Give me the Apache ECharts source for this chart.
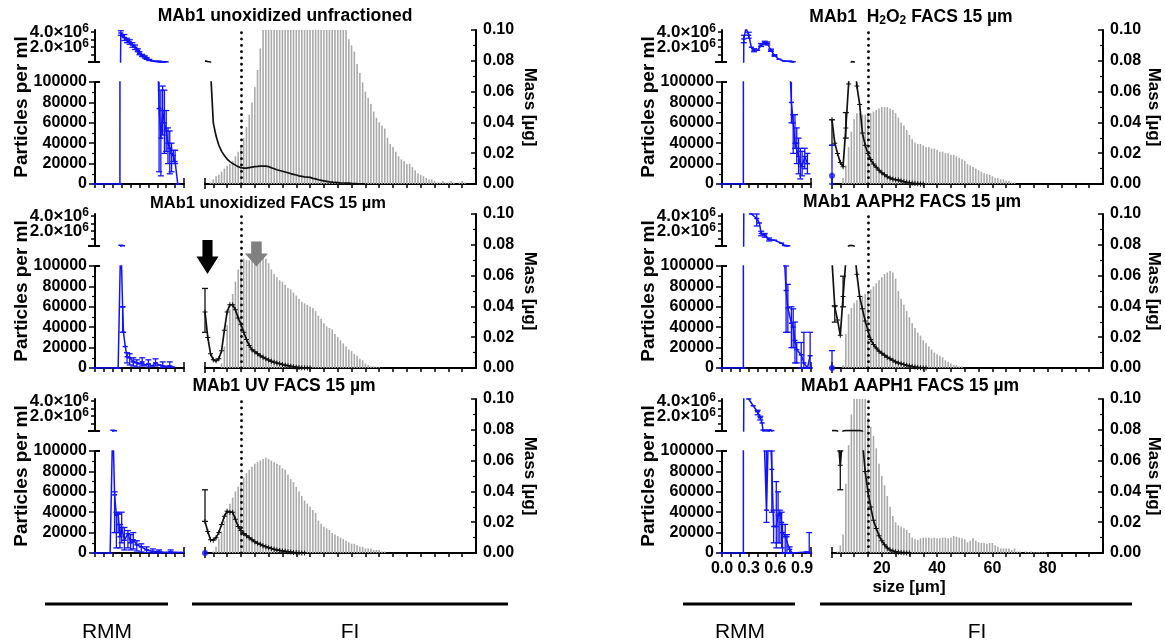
<!DOCTYPE html>
<html><head><meta charset="utf-8">
<script src="https://cdn.jsdelivr.net/npm/echarts@6/dist/echarts.min.js"></script>
<style>html,body{margin:0;padding:0;background:#fff}#c{width:1165px;height:643px}</style>
</head><body><div id="c"></div>
<script>
// ---------------- DATA ----------------
// FI size bins start at 2 µm, one value per 1 µm bin
const fiStart = 2;
// Mass per size bin [µg] (right axis)
const mass_unfrac = [0,0,0.001,0.003,0.005,0.006,0.008,0.010,0.012,0.013,0.015,0.018,0.021,0.024,0.030,0.037,0.045,0.053,0.063,0.074,0.088,0.102,
 0.110,0.118,0.125,0.131,0.136,0.140,0.143,0.145,0.146,0.146,0.145,0.143,0.141,0.138,0.135,0.132,0.128,0.125,0.122,0.120,0.117,0.114,0.112,0.110,0.108,0.106,0.104,0.103,0.101,0.100,
 0.094,0.090,0.086,0.078,0.072,0.066,0.060,0.056,0.052,0.047,0.043,0.040,0.038,0.036,0.030,0.026,0.024,0.021,0.018,0.016,0.015,0.013,0.013,0.011,0.009,0.007,0.006,0.005,0.004,0.003,0.003,0.002,0.001,0.001,0.002,0.001,0.001,0.002,0.001,0,0.001,0.002,0.001,0];
const mass_facs = [0,0,0,0,0,0,0.003,0.014,0.028,0.038,0.048,0.056,0.064,0.071,0.071,0.070,0.070,0.070,0.071,0.071,0.072,0.073,0.071,0.068,0.064,0.061,0.059,0.057,0.056,0.054,0.052,0.051,0.049,0.047,0.045,0.043,0.042,0.041,0.040,0.039,0.037,0.034,0.032,0.029,0.027,0.026,0.025,0.022,0.020,0.018,0.016,0.014,0.012,0.011,0.009,0.008,0.006,0.005,0.003,0.002,0.001,0.001,0.0005,0.0005];
const mass_uv = [0,0,0,0.001,0.004,0.009,0.014,0.021,0.028,0.032,0.036,0.040,0.043,0.046,0.049,0.052,0.054,0.056,0.058,0.059,0.060,0.061,0.062,0.061,0.060,0.059,0.058,0.057,0.055,0.054,0.051,0.048,0.046,0.043,0.040,0.037,0.034,0.032,0.030,0.028,0.026,0.021,0.019,0.017,0.016,0.015,0.013,0.012,0.011,0.010,0.009,0.008,0.007,0.006,0.006,0.005,0.004,0.004,0.003,0.003,0.003,0.002,0.002,0.002,0.001,0.001];
const mass_h2o2 = [0,0,0,0,0.004,0.012,0.024,0.034,0.042,0.046,0.046,0.045,0.045,0.046,0.046,0.047,0.048,0.049,0.050,0.050,0.050,0.049,0.048,0.046,0.043,0.040,0.038,0.035,0.032,0.029,0.027,0.026,0.026,0.025,0.024,0.024,0.023,0.023,0.022,0.021,0.021,0.020,0.020,0.019,0.019,0.018,0.017,0.016,0.015,0.013,0.012,0.011,0.010,0.009,0.008,0.007,0.0065,0.006,0.005,0.004,0.004,0.003,0.003,0.002,0.002,0.001,0.001];
const mass_aaph2 = [0,0,0,0,0.002,0.022,0.035,0.039,0.042,0.044,0.045,0.047,0.048,0.049,0.051,0.053,0.055,0.057,0.059,0.061,0.062,0.063,0.062,0.058,0.050,0.045,0.041,0.037,0.033,0.029,0.026,0.023,0.021,0.018,0.016,0.014,0.012,0.010,0.009,0.008,0.007,0.005,0.004,0.003,0.002,0.002,0.001,0.001];
const mass_aaph1 = [0,0,0.001,0.005,0.012,0.045,0.070,0.090,0.102,0.115,0.120,0.115,0.105,0.088,0.082,0.076,0.068,0.058,0.050,0.044,0.037,0.030,0.024,0.020,0.018,0.017,0.016,0.015,0.013,0.010,0.009,0.0085,0.0095,0.010,0.010,0.010,0.0095,0.010,0.0095,0.0095,0.010,0.010,0.0095,0.010,0.011,0.0105,0.010,0.0095,0.009,0.007,0.008,0.0095,0.008,0.007,0.0065,0.0065,0.006,0.0065,0.0065,0.005,0.004,0.003,0.003,0.003,0.003,0.002,0.003,0.001,0.001,0,0.001,0.0005,0.001,0.0005,0.0005,0.0005,0.0005,0.0005];

// FI particle counts per size bin [particles per ml] (left axis)
const fi_unfrac = [250000,160000,112000,60000,47000,38000,32000,28000,24500,22000,20000,18500,17000,16000,15500,15500,16000,16500,17000,17200,17500,17500,17500,17000,16000,15000,14000,13200,12500,11800,11000,10200,9500,8800,8000,7500,7000,6800,6500,5500,5000,4200,3600,3000,2500,2000,1800,1500,1300,1100,1000,900,800,600,500,300,200,100,0];
const fi_facs = [55000,30000,14000,8000,7000,9000,17000,37000,55000,62000,62000,57000,49000,43000,35000,28000,22000,18000,16000,14000,12000,10500,9000,7800,6500,5700,5000,4200,3500,2800,2200,1700,1200,800,500,300,150,50,0];
const fi_uv = [31000,21000,13000,12500,15000,20000,28000,36000,41000,40000,40000,33000,26000,22000,19000,17000,15000,13000,11000,9500,8500,7200,6200,5200,4500,3700,3000,2500,2000,1600,1200,900,600,400,200,100,0];
const fi_h2o2 = [63000,40000,30000,21000,17000,55000,98000,150000,130000,96000,78000,50000,38000,30000,24000,19500,16500,13500,11000,9000,7200,5800,4800,4200,3800,3000,2300,1700,1200,800,500,300,100,0];
const fi_aaph2 = [105000,60000,47000,32000,70000,105000,140000,180000,120000,92000,70000,58000,46000,37000,28000,23000,19500,16500,14500,12500,10500,9000,7500,6000,5000,4200,3400,2700,2000,1500,1000,600,300,100,0];
const fi_aaph1 = [150000,150000,120000,86000,120000,160000,160000,160000,160000,150000,150000,110000,80000,60000,45000,32000,24000,17000,12000,8000,5000,3000,2000,1200,800,500,300,100,0];

// FI count error bars [size, low, high]
const fiErr_facs = [[2,35000,78000]];
const fiErr_uv = [[2,31000,62000]];
const fiErr_h2o2 = [[2,38000,63000],[7,45000,70000]];
const fiErr_aaph2 = [[3,45000,61000],[6,60000,90000]];
const fiErr_aaph1 = [[5,62000,100000]];

// RMM particle counts [size µm, particles per ml]
const rmm_unfrac = [[0,0],[0.28,0],[0.29,3900000],[0.31,3500000],[0.33,3300000],[0.36,2900000],[0.39,2700000],[0.42,2300000],[0.45,2000000],[0.48,1600000],[0.50,1200000],[0.53,900000],[0.56,700000],[0.58,500000],[0.61,300000],[0.65,150000],[0.68,110000],[0.71,110000],[0.72,74000],[0.74,45000],[0.76,72000],[0.78,60000],[0.80,52000],[0.82,40000],[0.84,35000],[0.86,30000],[0.88,28000],[0.90,22000],[0.93,0]];
const rmm_facs = [[0,0],[0.26,0],[0.29,130000],[0.31,60000],[0.32,35000],[0.34,21000],[0.36,11000],[0.39,10000],[0.43,6000],[0.47,5000],[0.50,4000],[0.53,6000],[0.56,3000],[0.60,4000],[0.64,2000],[0.68,5000],[0.72,3000],[0.76,2000],[0.80,1500],[0.84,2000],[0.87,1000]];
const rmm_uv = [[0,0],[0.17,0],[0.20,130000],[0.22,57000],[0.24,37000],[0.26,39000],[0.28,16000],[0.30,25000],[0.33,12500],[0.37,19000],[0.40,10000],[0.43,13000],[0.47,8000],[0.52,6000],[0.58,3000],[0.65,1500],[0.72,1500],[0.78,500],[0.85,1000],[0.92,500],[0.98,500]];
const rmm_h2o2 = [[0,0],[0.24,0],[0.245,3100000],[0.27,4600000],[0.30,3600000],[0.33,2000000],[0.36,1600000],[0.40,1600000],[0.44,2300000],[0.48,2600000],[0.51,2500000],[0.55,1600000],[0.59,900000],[0.64,400000],[0.70,150000],[0.76,120000],[0.78,80000],[0.80,60000],[0.82,40000],[0.84,40000],[0.86,27000],[0.88,20000],[0.90,17000],[0.93,27000],[0.96,20000]];
const rmm_aaph2 = [[0,0],[0.24,0],[0.245,5000000],[0.33,4300000],[0.39,3700000],[0.42,3100000],[0.44,1700000],[0.48,1500000],[0.53,900000],[0.59,800000],[0.67,400000],[0.70,110000],[0.72,76000],[0.74,59000],[0.78,44000],[0.80,40000],[0.82,27000],[0.84,18000],[0.89,13000],[0.92,5000],[0.96,0],[0.99,12000]];
const rmm_aaph1 = [[0,0],[0.24,0],[0.245,5000000],[0.30,4300000],[0.35,3400000],[0.40,2600000],[0.43,1800000],[0.45,1100000],[0.46,150000],[0.48,150000],[0.50,42000],[0.53,150000],[0.56,82000],[0.58,26000],[0.61,26000],[0.63,37000],[0.65,39000],[0.67,30000],[0.68,20000],[0.71,16000],[0.73,16000],[0.76,3500],[0.79,0],[0.95,1000],[0.98,500]];

// RMM error bars [size, low, high]
const rmmErr_unfrac = [[0.29,3600000,4200000],[0.33,2900000,3700000],[0.36,2600000,3200000],[0.39,2400000,3000000],[0.42,2000000,2600000],[0.45,1700000,2300000],[0.48,1400000,1800000],[0.50,1000000,1400000],[0.53,750000,1050000],[0.56,550000,850000],[0.58,380000,620000],[0.61,220000,380000],[0.72,12000,130000],[0.74,8000,92000],[0.76,48000,96000],[0.78,30000,92000],[0.80,32000,72000],[0.82,20000,55000],[0.84,10000,52000],[0.86,12000,40000],[0.88,22000,33000],[0.90,20000,33000]];
const rmmErr_facs = [[0.31,35000,60000],[0.36,5000,15000],[0.39,3000,14000],[0.43,2000,10000],[0.47,1000,8000],[0.53,2000,10000],[0.60,1000,8000],[0.68,2000,9000],[0.76,500,6000],[0.84,500,6000]];
const rmmErr_uv = [[0.22,20000,60000],[0.24,5000,40000],[0.26,20000,38000],[0.28,5000,28000],[0.30,10000,40000],[0.33,3000,25000],[0.37,5000,22000],[0.40,3000,18000],[0.43,4000,20000],[0.47,2000,12000],[0.52,1000,9000],[0.58,500,6000],[0.65,0,4000],[0.72,0,3000],[0.85,0,3000]];
const rmmErr_h2o2 = [[0.245,2600000,3600000],[0.30,3200000,4000000],[0.36,1400000,1800000],[0.44,2100000,2500000],[0.48,2400000,2800000],[0.51,2300000,2700000],[0.55,1450000,1750000],[0.59,800000,1000000],[0.78,60000,100000],[0.80,30000,68000],[0.82,35000,68000],[0.84,20000,55000],[0.86,10000,45000],[0.88,5000,35000],[0.90,8000,32000],[0.93,15000,35000],[0.96,10000,30000]];
const rmmErr_aaph2 = [[0.39,2700000,4300000],[0.44,1400000,2000000],[0.48,1200000,1700000],[0.53,700000,1100000],[0.72,35000,100000],[0.74,35000,82000],[0.78,20000,60000],[0.80,20000,58000],[0.82,5000,45000],[0.84,5000,25000],[0.89,0,25000],[0.92,0,35000],[0.99,0,35000]];
const rmmErr_aaph1 = [[0.40,2200000,2800000],[0.43,1500000,2000000],[0.50,30000,100000],[0.56,40000,100000],[0.58,10000,42000],[0.61,5000,70000],[0.63,10000,60000],[0.65,10000,42000],[0.67,5000,40000],[0.68,0,28000],[0.71,0,28000],[0.73,0,18000],[0.76,0,6000],[0.98,0,20000]];

// RMM points recorded at the lower FI edge [size, count] and their error bars
const blueFi_uv = [[2,0]];
const blueFi_h2o2 = [[2,8000]];
const blueFiErr_h2o2 = [[2,0,38000]];
const blueFi_aaph2 = [[2,0]];
const blueFiErr_aaph2 = [[2,0,17000]];

// arrows (panel 2) [size, mass]
const arrowBlack = [2.9, 0.072];
const arrowGray = [20.6, 0.074];

const facsCut = 15; // µm
const fiTicks = [20, 40, 60, 80];

// ---------------- LAYOUT ----------------
const FONT = '"Liberation Sans", Arial, Helvetica, sans-serif';
const BLUE = '#1212ff';
const colX = [0, 627];
const rowT = [30, 214, 399];
const massNameGap = [45, 33];
// upper (compressed) segment of the broken axis: values this small sit below its visible range
const rmmTopVisible = 45000, fiTopVisible = 110000;

const panels = [
 {col:0,row:0,title:'MAb1 unoxidized unfractioned',tx:285,ty:16,ts:17.5,rmm:rmm_unfrac,rmmErr:rmmErr_unfrac,fi:fi_unfrac,fiErr:[],mass:mass_unfrac,marks:false},
 {col:0,row:1,title:'MAb1 unoxidized FACS 15 µm',tx:268,ty:203,ts:16.5,rmm:rmm_facs,rmmErr:rmmErr_facs,fi:fi_facs,fiErr:fiErr_facs,mass:mass_facs,marks:true,arrows:true},
 {col:0,row:2,title:'MAb1 UV FACS 15 µm',tx:284,ty:386,ts:17.5,rmm:rmm_uv,rmmErr:rmmErr_uv,fi:fi_uv,fiErr:fiErr_uv,mass:mass_uv,marks:true,blue:blueFi_uv,blueErr:[]},
 {col:1,row:0,title:'MAb1  H{sub|2}O{sub|2} FACS 15 µm',tx:911,ty:17,ts:17.5,rmm:rmm_h2o2,rmmErr:rmmErr_h2o2,fi:fi_h2o2,fiErr:fiErr_h2o2,mass:mass_h2o2,marks:true,blue:blueFi_h2o2,blueErr:blueFiErr_h2o2},
 {col:1,row:1,title:'MAb1 AAPH2 FACS 15 µm',tx:912,ty:202,ts:17.5,rmm:rmm_aaph2,rmmErr:rmmErr_aaph2,fi:fi_aaph2,fiErr:fiErr_aaph2,mass:mass_aaph2,marks:true,blue:blueFi_aaph2,blueErr:blueFiErr_aaph2},
 {col:1,row:2,title:'MAb1 AAPH1 FACS 15 µm',tx:910,ty:386,ts:17.5,rmm:rmm_aaph1,rmmErr:rmmErr_aaph1,fi:fi_aaph1,fiErr:fiErr_aaph1,mass:mass_aaph1,marks:true,labels:true}
];

const grids=[], xAxes=[], yAxes=[], series=[], graphics=[];
const AL = {show:true, onZero:false, lineStyle:{color:'#000', width:2}};
function tick(o){ return Object.assign({show:true, length:5, lineStyle:{color:'#000', width:1.5}}, o); }
function lbl(o){ return Object.assign({color:'#000', fontFamily:FONT, fontWeight:'bold', fontSize:16, hideOverlap:false}, o); }
function grid(left, top, width, height){ grids.push({left, top, width, height, containLabel:false, outerBoundsMode:'none'}); return grids.length-1; }
function xa(o){ xAxes.push(Object.assign({type:'value', position:'bottom', splitLine:{show:false}, axisLine:{show:false,onZero:false}, axisTick:{show:false}, axisLabel:{show:false}}, o)); return xAxes.length-1; }
function ya(o){ yAxes.push(Object.assign({type:'value', position:'left', splitLine:{show:false}, axisLine:{show:false,onZero:false}, axisTick:{show:false}, axisLabel:{show:false}}, o)); return yAxes.length-1; }
// drop values that lie below the upper segment far out of view so they are clipped
function upper(data, thr){ return data.map(([x,v]) => [x, v < thr ? -9e6 : v]); }
const sciLabel = o => lbl(Object.assign({show:true, margin:6, fontSize:17,
  formatter:v => (v/1e6).toFixed(1) + '×10{s|6}',
  rich:{s:{fontSize:12, fontWeight:'bold', fontFamily:FONT, color:'#000', verticalAlign:'top', padding:[0,0,8,0]}}}, o));

function errSeries(xi, yi, data, color, cap){
  return {type:'custom', xAxisIndex:xi, yAxisIndex:yi, data, z:6, silent:true,
    renderItem(params, api){
      const cs = params.coordSys;
      const x = api.value(0);
      const a = api.coord([x, api.value(1)]), b = api.coord([x, api.value(2)]);
      const top = cs.y, bot = cs.y + cs.height, l = cs.x - 1, r = cs.x + cs.width + 1;
      if (a[0] < l || a[0] > r) return null;
      const cl = v => Math.max(top, Math.min(bot, v));
      const y1 = cl(a[1]), y2 = cl(b[1]);
      if (Math.abs(y1 - y2) < 0.5) return null;
      const ch = [{type:'line', shape:{x1:a[0], y1:y1, x2:a[0], y2:y2}, style:{stroke:color, lineWidth:1.3}}];
      [a[1], b[1]].forEach(y => { if (y >= top && y <= bot) ch.push({type:'line', shape:{x1:a[0]-cap, y1:y, x2:a[0]+cap, y2:y}, style:{stroke:color, lineWidth:1.3}}); });
      return {type:'group', children:ch};
    }};
}

const PLUS = 'path://M4,0 H6 V4 H10 V6 H6 V10 H4 V6 H0 V4 H4 Z';
const ARROW = 'path://M27,0 L73,0 L73,48 L100,48 L50,100 L0,48 L27,48 Z';
const fiTickVals = [5,10,15,20,25,30,35,40,45,50,55,60,65,70,75,80,85,90,95];

panels.forEach(p => {
  const cx = colX[p.col], T = rowT[p.row];
  const rl = 95 + cx, rw = 89, fl = 205 + cx, fw = 271;
  const gRT = grid(rl, T, rw, 32), gRB = grid(rl, T+52, rw, 102), gRF = grid(rl, T, rw, 154);
  const gFT = grid(fl, T, fw, 32), gFB = grid(fl, T+52, fw, 102), gFM = grid(fl, T, fw, 154);

  // RMM top part
  const xRT = xa({gridIndex:gRT, min:0, max:1});
  const yRT = ya({gridIndex:gRT, min:30000, max:4300000, axisLine:AL,
    axisTick:tick({customValues:[1000000,2000000,3000000,4000000], length:4}),
    axisLabel:sciLabel({customValues:[4000000]})});
  ya({gridIndex:gRT, min:30000, max:4300000, axisLabel:sciLabel({customValues:[2000000]})});
  ya({gridIndex:gRT, min:30000, max:4300000, axisTick:tick({customValues:[30000], length:7, lineStyle:{color:'#000',width:2}})});
  ya({gridIndex:gRT, min:30000, max:4300000, axisTick:tick({customValues:[30000], inside:true, length:5, lineStyle:{color:'#000',width:2}})});

  // RMM bottom part
  const xRB = xa({gridIndex:gRB, min:0, max:1, interval:0.1, axisLine:AL, axisTick:tick({length:4}),
    axisLabel:lbl({show:!!p.labels, fontSize:16, margin:8,
      formatter:v => { const k = Math.round(v*10); return (k % 3 === 0 && k <= 9) ? (k/10).toFixed(1) : ''; }})});
  xa({gridIndex:gRB, min:0, max:1, axisTick:tick({customValues:[1], inside:true, length:6})});
  const yRB = ya({gridIndex:gRB, min:0, max:100000, interval:20000, axisLine:AL, axisTick:tick({length:6}),
    minorTick:{show:true, splitNumber:2, length:3, lineStyle:{color:'#000', width:1.2}},
    axisLabel:lbl({show:true, margin:8, formatter:v => String(v)})});
  ya({gridIndex:gRB, min:0, max:100000, axisTick:tick({customValues:[100000], inside:true, length:5, lineStyle:{color:'#000',width:2}})});

  // frame for Y name
  xa({gridIndex:gRF, min:0, max:1});
  ya({gridIndex:gRF, min:0, max:1, name:'Particles per ml', nameLocation:'middle', nameGap:64,
    nameTextStyle:{color:'#000', fontFamily:FONT, fontWeight:'bold', fontSize:19}});

  // FI top/bottom count parts
  const xFT = xa({gridIndex:gFT, min:2, max:100});
  const yFT = ya({gridIndex:gFT, min:110000, max:4300000});
  const xFB = xa({gridIndex:gFB, min:2, max:100});
  const yFB = ya({gridIndex:gFB, min:0, max:100000});

  // FI mass
  const xFM = xa({gridIndex:gFM, min:2, max:100, axisLine:AL, axisTick:tick({customValues:fiTickVals, length:4}),
    axisLabel:lbl({show:!!p.labels, customValues:fiTicks, margin:8})});
  xa({gridIndex:gFM, min:2, max:100, axisTick:tick({customValues:[2], length:5}), axisLine:{show:false}});
  xa({gridIndex:gFM, min:2, max:100, axisTick:tick({customValues:[2], inside:true, length:6})});
  const yFM = ya({gridIndex:gFM, position:'right', min:0, max:0.1, interval:0.02, axisLine:AL,
    axisTick:tick({inside:true, length:5}),
    minorTick:{show:true, splitNumber:2, length:3, lineStyle:{color:'#000', width:1.2}},
    axisLabel:lbl({show:true, margin:7, formatter:v => v.toFixed(2)}),
    name:'Mass [µg]', nameLocation:'middle', nameRotate:-90, nameGap:massNameGap[p.col],
    nameTextStyle:{color:'#000', fontFamily:FONT, fontWeight:'bold', fontSize:17}});

  // Mass bars
  const bar = {type:'bar', xAxisIndex:xFM, yAxisIndex:yFM, barWidth:1.6, z:2,
    data:p.mass.map((v,i) => [fiStart+i, v]), itemStyle:{color:'#aaaaaa'}, silent:true,
    markLine:{silent:true, symbol:['none','none'], label:{show:false}, data:[{xAxis:facsCut}],
      lineStyle:{color:'#000', type:[0.1,6.2], width:2.8, cap:'round'}}};
  if (p.arrows) {
    bar.markPoint = {silent:true, label:{show:false}, data:[
      {coord:arrowBlack, symbol:ARROW, symbolSize:[22,34], itemStyle:{color:'#000'}},
      {coord:arrowGray, symbol:ARROW, symbolSize:[23,25], itemStyle:{color:'#808080'}}]};
  }
  series.push(bar);

  // FI count line (both broken parts)
  const fiData = p.fi.map((v,i) => [fiStart+i, v]);
  [[xFT,yFT,upper(fiData, fiTopVisible),false],[xFB,yFB,fiData,p.marks]].forEach(([xi,yi,d,mk]) => {
    series.push({type:'line', xAxisIndex:xi, yAxisIndex:yi, data:d, clip:true, z:5,
      symbol:mk ? PLUS : 'none', symbolSize:5, showSymbol:mk,
      lineStyle:{color:'#111', width:1.7}, itemStyle:{color:'#111'}});
  });
  series.push(errSeries(xFB, yFB, p.fiErr, '#111', 3));

  // RMM line (both broken parts)
  [[xRT,yRT,upper(p.rmm, rmmTopVisible)],[xRB,yRB,p.rmm]].forEach(([xi,yi,d]) => {
    series.push({type:'line', xAxisIndex:xi, yAxisIndex:yi, data:d, clip:true, z:5,
      symbol:'rect', symbolSize:[5,1.5], lineStyle:{color:BLUE, width:1.5}, itemStyle:{color:BLUE}});
    series.push(errSeries(xi, yi, p.rmmErr, BLUE, 3));
  });
  if (p.blue) {
    series.push({type:'scatter', xAxisIndex:xFB, yAxisIndex:yFB, data:p.blue, symbol:'circle', symbolSize:6, itemStyle:{color:BLUE}, z:7, clip:false});
    series.push(errSeries(xFB, yFB, p.blueErr, BLUE, 3));
  }

  // title
  graphics.push({type:'text', x:p.tx, y:p.ty, silent:true, style:{text:p.title, fill:'#000', fontFamily:FONT, fontWeight:'bold', fontSize:p.ts,
    textAlign:'center', textVerticalAlign:'middle',
    rich:{sub:{fontSize:12, fontWeight:'bold', fontFamily:FONT, fill:'#000', padding:[7,0,0,0]}}}});
});

// x-axis title and method labels
graphics.push({type:'text', x:909, y:587, silent:true, style:{text:'size [µm]', fill:'#000', fontFamily:FONT, fontWeight:'bold', fontSize:17, textAlign:'center', textVerticalAlign:'middle'}});
[[45,168,107,'RMM'],[192,508,350,'FI'],[683,795,740,'RMM'],[820,1132,977,'FI']].forEach(([a,b,c,t]) => {
  graphics.push({type:'line', silent:true, shape:{x1:a, y1:604, x2:b, y2:604}, style:{stroke:'#000', lineWidth:3}});
  graphics.push({type:'text', x:c, y:632, silent:true, style:{text:t, fill:'#000', fontFamily:FONT, fontSize:21, textAlign:'center', textVerticalAlign:'middle'}});
});

const chart = echarts.init(document.getElementById('c'), null, {renderer:'canvas'});
chart.setOption({animation:false, backgroundColor:'#fff', grid:grids, xAxis:xAxes, yAxis:yAxes, series, graphic:graphics});
</script></body></html>
